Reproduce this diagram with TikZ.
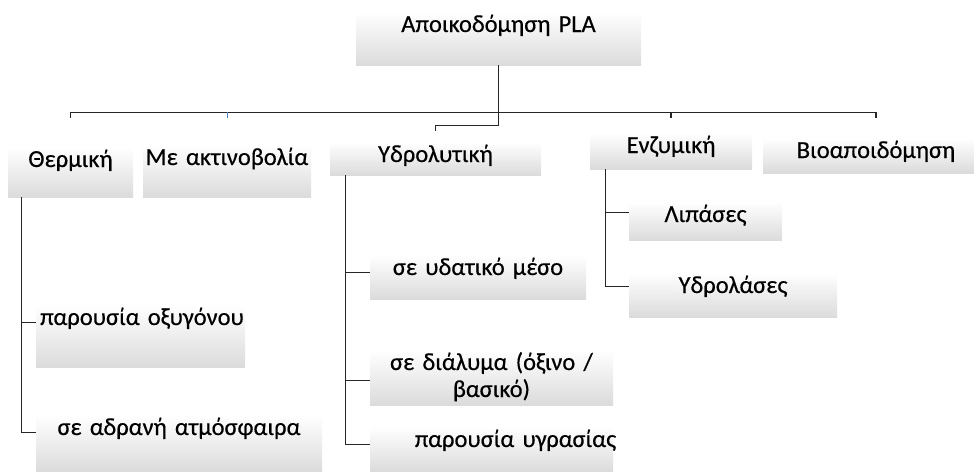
\documentclass[tikz,border=0pt]{standalone}
\usepackage{fontspec}
\setmainfont{Carlito}[FakeBold=0.4]
\usepackage{tikz}
\tikzset{
    box/.style={anchor=base, align=center, inner xsep=0pt, inner ysep=0pt,
        text height=20pt, top color=white, bottom color=black!14,
        text=black, font=\fontsize{24.5}{27}\selectfont},
    link/.style={draw=black!85, line width=1.2pt},
}

\begin{document}
\begin{tikzpicture}[x=1pt, y=-1pt]
    \useasboundingbox (0,0) rectangle (974,471);
    \node[box, text width=285pt, text depth=33pt] (root) at (498.5,32) {Αποικοδόμηση PLA};
    \node[box, text width=125pt, text depth=30pt] (therm) at (70.5,167) {Θερμική};
    \node[box, text width=168pt, text depth=32pt] (rad) at (227,165) {Με ακτινοβολία};
    \node[box, text width=211pt, text depth=13pt] (hydro) at (435.5,162) {Υδρολυτική};
    \node[box, text width=162pt, text depth=16pt] (enz) at (671,153) {Ενζυμική};
    \node[box, text width=226pt, text depth=15pt] (bio) at (876,158) {Βιοαποιδόμηση};
    \node[box, text width=209pt, text depth=42pt] (oxy) at (140.5,325) {\makebox[0pt]{\hspace*{3pt}παρουσία οξυγόνου}};
    \node[box, text width=286pt, text depth=36pt] (inert) at (179,435) {σε αδρανή ατμόσφαιρα};
    \node[box, text width=216pt, text depth=24pt] (aq) at (478,275) {σε υδατικό μέσο};
    \node[box, text width=243pt, text depth=35pt] (sol) at (491.5,370) {σε διάλυμα (όξινο /\\ βασικό)};
    \node[box, text width=243pt, text depth=24pt] (moist) at (491.5,447) {\makebox[0pt]{\hspace*{48pt}παρουσία υγρασίας}};
    \node[box, text width=153pt, text depth=18pt] (lip) at (705.5,222) {Λιπάσες};
    \node[box, text width=208pt, text depth=24pt] (hydl) at (733,293) {Υδρολάσες};

    \coordinate (bar) at ([yshift=-47pt]root.south);
    \draw[link] (root.south) -- ++(0,60) -| ([yshift=11pt]hydro.north);
    \draw[link] (therm.north |- bar) -- (bio.north |- bar);
    \foreach \n in {therm,enz,bio}
        \draw[link] (\n.north |- bar) -- ++(0,6);
    \draw[draw={rgb,255:red,70;green,130;blue,200}, line width=0.8pt] (rad.north |- bar) -- ++(0,6);
    %\draw[link] (rad.north |- bar) -- ++(0,6);
    \foreach \n in {oxy,inert}
        \draw[link] ([xshift=14pt]therm.south west) |- (\n.mid west);
    \foreach \n in {aq,moist}
        \draw[link] ([xshift=16pt]hydro.south west) |- (\n.mid west);
    \draw[link] ([xshift=16pt]hydro.south west) |- ([yshift=-12.6pt]sol.mid west);
    \draw[link] ([xshift=16pt]enz.south west) |- ([yshift=7pt]lip.mid west);
    \draw[link] ([xshift=16pt]enz.south west) |- ([yshift=4pt]hydl.mid west);
\end{tikzpicture}
\end{document}
